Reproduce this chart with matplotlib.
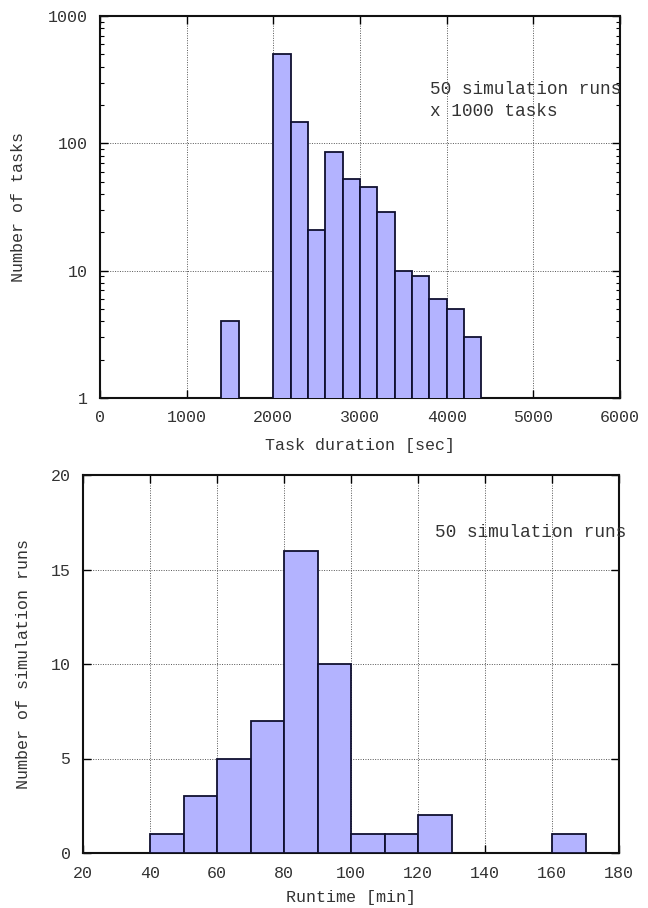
import matplotlib
matplotlib.use("Agg")
import matplotlib.pyplot as plt
from matplotlib.ticker import LogLocator, NullFormatter

plt.rcParams['font.family'] = ['Liberation Mono', 'DejaVu Sans Mono']

# Top histogram: task duration (sec), bin width 200
task_bin_starts = [1400, 2000, 2200, 2400, 2600, 2800, 3000, 3200, 3400, 3600, 3800, 4000, 4200]
task_counts = [4, 505, 148, 21, 86, 52, 45, 29, 10, 9, 6, 5, 3]
task_bin_width = 200

# Bottom histogram: runtime (min), bin width 10
run_bin_starts = [40, 50, 60, 70, 80, 90, 100, 110, 120, 160]
run_counts = [1, 3, 5, 7, 16, 10, 1, 1, 2, 1]
run_bin_width = 10

bar_color = '#b3b3ff'
text_color = '#333333'
fig = plt.figure(figsize=(6.48, 9.08), dpi=100)

ax1 = fig.add_axes([100/648, 1-398/908, 520/648, 382/908])
ax1.bar(task_bin_starts, task_counts, width=task_bin_width, align='edge',
        color=bar_color, edgecolor='#101030', linewidth=1.3, zorder=3)
ax1.set_yscale('log')
ax1.set_xlim(0, 6000)
ax1.set_ylim(1, 1000)
ax1.set_xticks([0, 1000, 2000, 3000, 4000, 5000, 6000])
ax1.set_yticks([1, 10, 100, 1000])
ax1.set_yticklabels(['1', '10', '100', '1000'])
ax1.yaxis.set_minor_locator(LogLocator(base=10, subs=range(2, 10)))
ax1.yaxis.set_minor_formatter(NullFormatter())
ax1.set_xlabel('Task duration [sec]', fontsize=12, labelpad=9, color=text_color)
ax1.set_ylabel('Number of tasks', fontsize=12, color=text_color)
ax1.yaxis.set_label_coords(-0.142, 0.5)
ax1.text(0.635, 0.829, '50 simulation runs\nx 1000 tasks', transform=ax1.transAxes,
         fontsize=12.8, ha='left', va='top', linespacing=1.35, color=text_color)

ax2 = fig.add_axes([83/648, 1-853/908, 536/648, 378/908])
ax2.bar(run_bin_starts, run_counts, width=run_bin_width, align='edge',
        color=bar_color, edgecolor='#101030', linewidth=1.3, zorder=3)
ax2.set_xlim(20, 180)
ax2.set_ylim(0, 20)
ax2.set_xticks([20, 40, 60, 80, 100, 120, 140, 160, 180])
ax2.set_yticks([0, 5, 10, 15, 20])
ax2.set_xlabel('Runtime [min]', fontsize=12, labelpad=7, color=text_color)
ax2.set_ylabel('Number of simulation runs', fontsize=12, color=text_color)
ax2.yaxis.set_label_coords(-0.097, 0.5)
ax2.text(0.657, 0.847, '50 simulation runs', transform=ax2.transAxes,
         fontsize=12.8, ha='left', va='center', color=text_color)

for ax in (ax1, ax2):
    ax.grid(True, which='major', linestyle=(0, (1, 1.5)), color='#555555', linewidth=0.7, zorder=0)
    ax.tick_params(which='both', direction='in', top=True, right=True, labelsize=12,
                   labelcolor=text_color)
    ax.tick_params(which='major', length=6, width=1, pad=9)
    ax.tick_params(which='minor', length=3, width=0.8)
    for s in ax.spines.values():
        s.set_linewidth(1.5)
        s.set_color('#111111')

fig.savefig('out.png', dpi=100)
